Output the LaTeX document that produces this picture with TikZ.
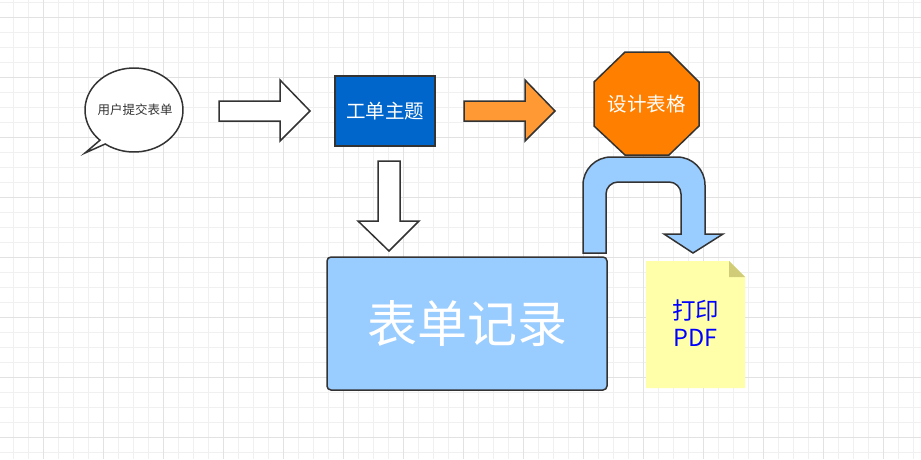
\documentclass[tikz,border=0pt]{standalone}
\usepackage{fontspec}
\newfontfamily\cjk{Noto Sans CJK SC}
\usetikzlibrary{shapes.geometric}
\definecolor{gridminor}{HTML}{F0F0F0}
\definecolor{gridmajor}{HTML}{E2E2E2}
\definecolor{edge}{HTML}{333333}
\definecolor{darkblue}{HTML}{0066CC}
\definecolor{lightblue}{HTML}{99CCFF}
\definecolor{orangea}{HTML}{FF9933}
\definecolor{orangeb}{HTML}{FF8000}
\definecolor{notefill}{HTML}{FFFFAA}
\definecolor{notefold}{HTML}{D0CC78}
\definecolor{notetext}{HTML}{0000FF}
\tikzset{
  shapeline/.style={draw=edge, line width=1.5pt, line join=miter},
  blockarrow/.style={shapeline, fill=white},
  lbl/.style={font=\cjk, inner sep=0pt},
}
\begin{document}
\begin{tikzpicture}[x=1pt,y=-1pt]
\useasboundingbox (0,0) rectangle (921,459);
\fill[white] (0,0) rectangle (921,459);
% grid
\foreach \x in {13,28,...,913} \draw[gridminor, line width=0.8pt] (\x,0) -- (\x,459);
\foreach \y in {2,17,...,452} \draw[gridminor, line width=0.8pt] (0,\y) -- (921,\y);
\foreach \x in {43,103,...,913} \draw[gridmajor, line width=0.8pt] (\x,0) -- (\x,459);
\foreach \y in {17,77,...,452} \draw[gridmajor, line width=0.8pt] (0,\y) -- (921,\y);

% speech bubble
\draw[shapeline, fill=white] ([shift={(126:49 and 42)}]134,110)
  arc[start angle=126, end angle=-226, x radius=49, y radius=42]
  -- (85,153) -- cycle;
\node[lbl, text=edge, font=\cjk\fontsize{12.5}{14}\selectfont] (bubble) at (135,110) {用户提交表单};

% white right arrow
\draw[blockarrow] (219,101) -- (280,101) -- (280,80) -- (310,111) -- (280,141) -- (280,121) -- (219,121) -- cycle;
\coordinate (arrow1) at (264,111);

% box 工单主题
\node[shapeline, fill=darkblue, minimum width=100pt, minimum height=70pt, inner sep=0pt,
  text=white, font=\cjk\fontsize{19.5}{21}\selectfont] (topic) at (385,111) {工单主题};

% orange right arrow
\draw[blockarrow, fill=orangea] (464,101) -- (525,101) -- (525,80) -- (555,111) -- (525,141) -- (525,121) -- (464,121) -- cycle;
\coordinate (arrow2) at (509,111);

% octagon
\draw[shapeline, fill=orangeb] (625,52) -- (669,52) -- (699,82) -- (699,126) -- (669,155) -- (625,155) -- (594,126) -- (594,82) -- cycle;
\node[lbl, text=white, font=\cjk\fontsize{19.5}{21}\selectfont] (design) at (646.5,104) {设计表格};

% down arrow
\draw[blockarrow] (378,161) -- (400,161) -- (400,221) -- (419,221) -- (389,251) -- (358,221) -- (378,221) -- cycle;
\coordinate (arrow3) at (389,206);

% big box
\node[shapeline, fill=lightblue, rounded corners=4pt, minimum width=280pt, minimum height=133pt, inner sep=0pt,
  text=white, font=\cjk\fontsize{50}{54}\selectfont] (record) at (467,323.5) {表单记录};

% U-turn arrow
\draw[shapeline, fill=lightblue] (583,253) -- (583,185)
  arc[start angle=180, end angle=270, radius=28] -- (677,157)
  arc[start angle=270, end angle=360, radius=28] -- (705,234) -- (723,234) -- (693,253) -- (664,234) -- (681,234) -- (681,194)
  arc[start angle=0, end angle=-90, radius=12] -- (618,182)
  arc[start angle=270, end angle=180, radius=12] -- (606,253) -- cycle;
\coordinate (uturn) at (644,170);

% note
\fill[notefill] (646,261) -- (729,261) -- (745,277) -- (745,388) -- (646,388) -- cycle;
\fill[notefold] (729,261) -- (745,277) -- (729,277) -- cycle;
\node[lbl, text=notetext, font=\cjk\fontsize{23.5}{27}\selectfont, align=center] (note) at (695.5,323.5) {打印\\PDF};
\end{tikzpicture}
\end{document}
